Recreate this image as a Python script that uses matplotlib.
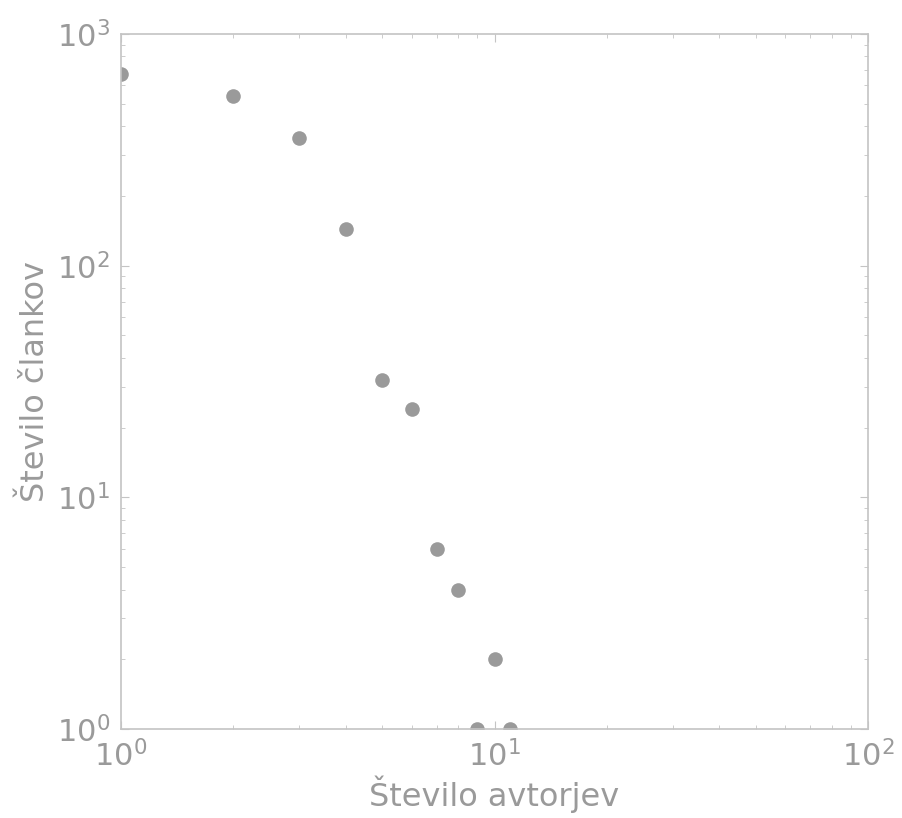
import matplotlib
matplotlib.use('Agg')
import matplotlib.pyplot as plt

# stevilo avtorjev na clanek -> stevilo clankov
authors = [1, 2, 3, 4, 5, 6, 7, 8, 9, 10, 11]
papers = [670, 540, 355, 144, 32, 24, 6, 4, 1, 2, 1]

grey = '#9a9a9a'
spine_grey = '#c4c4c4'

fig = plt.figure(figsize=(9.02, 8.18), dpi=100)
ax = fig.add_axes([121/902, 89/818, 747/902, 695/818])

ax.plot(authors, papers, 'o', color=grey, markersize=10.5,
        markeredgecolor='none')

ax.set_xscale('log')
ax.set_yscale('log')
ax.set_xlim(1, 100)
ax.set_ylim(1, 1000)

for s in ax.spines.values():
    s.set_color(spine_grey)
    s.set_linewidth(1.2)

ax.tick_params(which='both', direction='in', top=True, right=True,
               color=spine_grey, labelcolor=grey, labelsize=22)
ax.tick_params(which='major', length=6, pad=8)
ax.tick_params(which='minor', length=3)

ax.set_xlabel('Število avtorjev', fontsize=23, color=grey, labelpad=2)
ax.set_ylabel('Število člankov', fontsize=23, color=grey, labelpad=4)

fig.savefig('out.png', dpi=100)
